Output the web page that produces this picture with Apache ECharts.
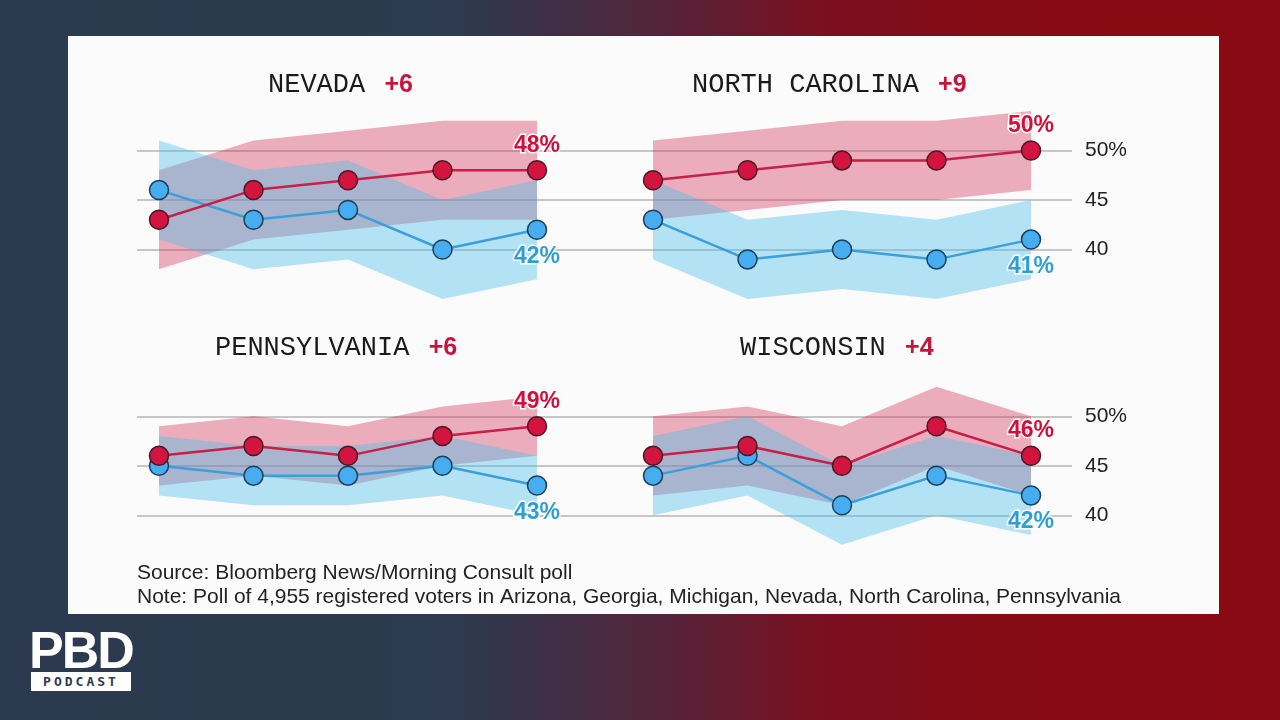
<!DOCTYPE html>
<html>
<head>
<meta charset="utf-8">
<script src="https://cdn.jsdelivr.net/npm/echarts@6/dist/echarts.min.js"></script>
<style>
  html, body { margin: 0; padding: 0; width: 1280px; height: 720px; overflow: hidden; }
  body { background: linear-gradient(90deg, #2b3a4e 0%, #2d3a4f 36%, #55233a 52%, #7a1020 64%, #850b14 78%, #8a0a12 100%); position: relative; font-family: "Liberation Sans", Arial, sans-serif; }
  #chart { position: absolute; left: 68px; top: 36px; width: 1151px; height: 578px; background: #fbfbfb; }
  #logo { position: absolute; left: 29px; top: 628px; width: 104px; color: #fff; }
  #logo .pbd { font-family: "Liberation Sans", Arial, sans-serif; font-weight: bold; font-size: 52px; line-height: 44px; letter-spacing: -2px; }
  #logo .pod { margin-top: 0px; margin-left: 2px; width: 100px; height: 19px; background: #fff; color: #2b3a4e; font-family: "DejaVu Sans Mono", monospace; font-weight: bold; font-size: 13px; line-height: 19px; text-align: center; letter-spacing: 3px; }
</style>
</head>
<body>
<div id="chart"></div>
<div id="logo"><div class="pbd">PBD</div><div class="pod">PODCAST</div></div>
<script>
// ---- data ----
const waves = ['Oct', 'Nov', 'Dec', 'Jan', 'Feb'];
const states = ['NEVADA', 'NORTH CAROLINA', 'PENNSYLVANIA', 'WISCONSIN'];
const leads = ['+6', '+9', '+6', '+4'];

const nvTrump = [43, 46, 47, 48, 48];
const nvBiden = [46, 43, 44, 40, 42];
const nvTrumpHi = [48, 51, 52, 53, 53];
const nvTrumpLo = [38, 41, 42, 43, 43];
const nvBidenHi = [51, 48, 49, 45, 47];
const nvBidenLo = [41, 38, 39, 35, 37];

const ncTrump = [47, 48, 49, 49, 50];
const ncBiden = [43, 39, 40, 39, 41];
const ncTrumpHi = [51, 52, 53, 53, 54];
const ncTrumpLo = [43, 44, 45, 45, 46];
const ncBidenHi = [47, 43, 44, 43, 45];
const ncBidenLo = [39, 35, 36, 35, 37];

const paTrump = [46, 47, 46, 48, 49];
const paBiden = [45, 44, 44, 45, 43];
const paTrumpHi = [49, 50, 49, 51, 52];
const paTrumpLo = [43, 44, 43, 45, 46];
const paBidenHi = [48, 47, 47, 48, 46];
const paBidenLo = [42, 41, 41, 42, 40];

const wiTrump = [46, 47, 45, 49, 46];
const wiBiden = [44, 46, 41, 44, 42];
const wiTrumpHi = [50, 51, 49, 53, 50];
const wiTrumpLo = [42, 43, 41, 45, 42];
const wiBidenHi = [48, 50, 45, 48, 46];
const wiBidenLo = [40, 42, 37, 40, 38];

const gridTicks = [40, 45, 50];
const sourceText = 'Source: Bloomberg News/Morning Consult poll';
const noteText = 'Note: Poll of 4,955 registered voters in Arizona, Georgia, Michigan, Nevada, North Carolina, Pennsylvania';

const panels = [
  { trump: nvTrump, biden: nvBiden, tHi: nvTrumpHi, tLo: nvTrumpLo, bHi: nvBidenHi, bLo: nvBidenLo },
  { trump: ncTrump, biden: ncBiden, tHi: ncTrumpHi, tLo: ncTrumpLo, bHi: ncBidenHi, bLo: ncBidenLo },
  { trump: paTrump, biden: paBiden, tHi: paTrumpHi, tLo: paTrumpLo, bHi: paBidenHi, bLo: paBidenLo },
  { trump: wiTrump, biden: wiBiden, tHi: wiTrumpHi, tLo: wiTrumpLo, bHi: wiBidenHi, bLo: wiBidenLo }
];

// ---- styles / layout ----
const RED = '#d2143f';
const RED_LINE = '#c81f48';
const RED_BORDER = '#4a1726';
const BLUE = '#45adf0';
const BLUE_LINE = '#3a9fda';
const BLUE_BORDER = '#1f3d58';
const RED_BAND = 'rgba(210,40,80,0.37)';
const BLUE_BAND = 'rgba(70,190,235,0.40)';
const RED_LABEL = '#d0103a';
const BLUE_LABEL = '#2f9fd2';

const rowTop = [15.5, 281.5];     // data grid top (y range 30..60)
const frameTop = [114.5, 380.5];  // frame grid top (y range 40..50)
const colLeft = [91, 585];
const plotW = 378;
const dataH = 297;
const frameH = 99;

const grids = [];
const xAxes = [];
const yAxes = [];
const series = [];

// frame grids (gridlines + right labels), one per row
for (let r = 0; r < 2; r++) {
  grids.push({ left: 69, top: frameTop[r], width: 935, height: frameH });
  xAxes.push({ gridIndex: r, type: 'value', show: false, min: 0, max: 1 });
  yAxes.push({
    gridIndex: r, type: 'value', min: gridTicks[0], max: gridTicks[2], interval: 5, position: 'right',
    axisLine: { show: false }, axisTick: { show: false },
    splitLine: { show: true, lineStyle: { color: '#b4b4b4', width: 1.5 } },
    axisLabel: { show: true, margin: 13, color: '#222', fontSize: 21, fontFamily: 'Liberation Sans, Arial, sans-serif',
      formatter: v => (v === 50 ? '50%' : String(v)) }
  });
}

panels.forEach((p, i) => {
  const r = Math.floor(i / 2), c = i % 2;
  const gi = grids.length;
  grids.push({ left: colLeft[c], top: rowTop[r], width: plotW, height: dataH });
  xAxes.push({ gridIndex: gi, type: 'category', data: waves, boundaryGap: false, show: false });
  yAxes.push({ gridIndex: gi, type: 'value', min: 30, max: 60, show: false });
  const last = p.trump.length - 1;
  const common = { xAxisIndex: gi, yAxisIndex: gi, silent: true, animation: false };
  // red band
  series.push(Object.assign({ type: 'line', stack: 'r' + i, data: p.tLo, symbol: 'none', lineStyle: { width: 0, opacity: 0 } }, common));
  series.push(Object.assign({ type: 'line', stack: 'r' + i, data: p.tHi.map((h, k) => h - p.tLo[k]), symbol: 'none',
    lineStyle: { width: 0, opacity: 0 }, areaStyle: { color: RED_BAND, opacity: 1 } }, common));
  // blue band
  series.push(Object.assign({ type: 'line', stack: 'b' + i, data: p.bLo, symbol: 'none', lineStyle: { width: 0, opacity: 0 } }, common));
  series.push(Object.assign({ type: 'line', stack: 'b' + i, data: p.bHi.map((h, k) => h - p.bLo[k]), symbol: 'none',
    lineStyle: { width: 0, opacity: 0 }, areaStyle: { color: BLUE_BAND, opacity: 1 } }, common));
  // biden line
  series.push(Object.assign({
    type: 'line', symbol: 'circle', symbolSize: 19,
    lineStyle: { color: BLUE_LINE, width: 2.5 },
    itemStyle: { color: BLUE, borderColor: BLUE_BORDER, borderWidth: 1.5 },
    data: p.biden.map((v, k) => k === last ? { value: v, label: {
      show: true, position: 'bottom', distance: 5, formatter: '{c}%', color: BLUE_LABEL,
      fontSize: 23, fontWeight: 'bold', fontFamily: 'Liberation Sans, Arial, sans-serif',
      textBorderColor: '#ffffff', textBorderWidth: 3 } } : v),
    z: 3
  }, common));
  // trump line
  series.push(Object.assign({
    type: 'line', symbol: 'circle', symbolSize: 19,
    lineStyle: { color: RED_LINE, width: 2.5 },
    itemStyle: { color: RED, borderColor: RED_BORDER, borderWidth: 1.5 },
    data: p.trump.map((v, k) => k === last ? { value: v, label: {
      show: true, position: 'top', distance: 3, formatter: '{c}%', color: RED_LABEL,
      fontSize: 23, fontWeight: 'bold', fontFamily: 'Liberation Sans, Arial, sans-serif',
      textBorderColor: '#ffffff', textBorderWidth: 3 } } : v),
    z: 4
  }, common));
});

const titlePos = [[200, 49], [624, 49], [147, 312], [672, 312]];
const graphics = titlePos.map((pos, i) => ({
  type: 'text', x: pos[0], y: pos[1], silent: true,
  style: {
    text: '{a|' + states[i] + ' }{b|' + leads[i] + '}',
    textAlign: 'left', textVerticalAlign: 'middle',
    rich: {
      a: { fontFamily: 'Liberation Mono, DejaVu Sans Mono, monospace', fontSize: 27, fill: '#1a1a1a', color: '#1a1a1a' },
      b: { fontFamily: 'Liberation Sans, Arial, sans-serif', fontSize: 25, fontWeight: 'bold', fill: '#c8143c', color: '#c8143c', padding: [0, 0, 0, 3] }
    }
  }
}));
graphics.push({ type: 'text', x: 69, y: 537, silent: true,
  style: { text: sourceText, textAlign: 'left', textVerticalAlign: 'middle', fill: '#222',
    font: '21px "Liberation Sans", Arial, sans-serif' } });
graphics.push({ type: 'text', x: 69, y: 561, silent: true,
  style: { text: noteText, textAlign: 'left', textVerticalAlign: 'middle', fill: '#222',
    font: '21px "Liberation Sans", Arial, sans-serif' } });

const chart = echarts.init(document.getElementById('chart'), null, { renderer: 'canvas' });
chart.setOption({
  animation: false,
  backgroundColor: '#fbfbfb',
  grid: grids,
  xAxis: xAxes,
  yAxis: yAxes,
  series: series,
  graphic: graphics
});
</script>
</body>
</html>
